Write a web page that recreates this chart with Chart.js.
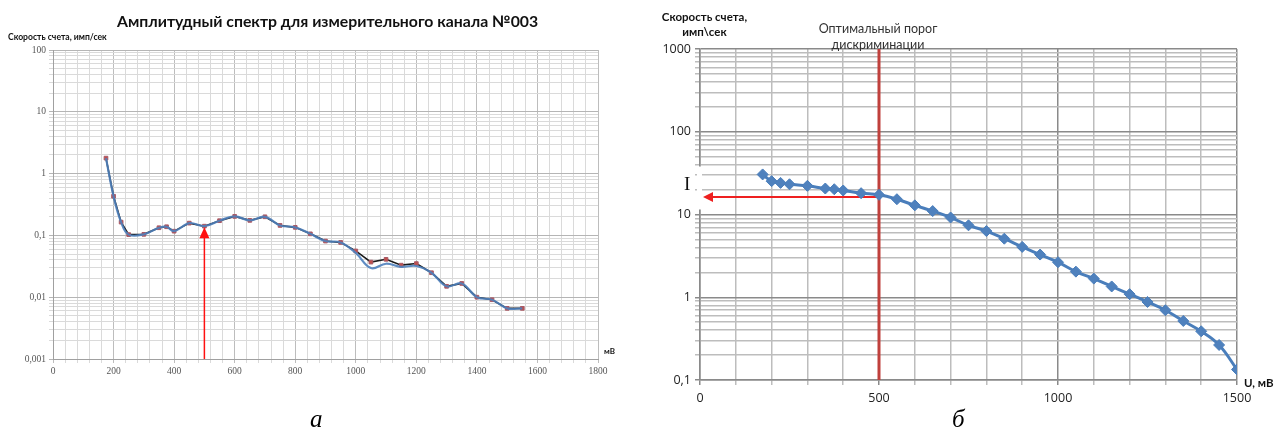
<!DOCTYPE html>
<html lang="ru">
<head>
<meta charset="UTF-8">
<title>Амплитудный спектр</title>
<script src="https://cdn.jsdelivr.net/npm/chart.js"></script>
<style>
  body { margin: 0; width: 1280px; height: 443px; background: #fff; position: relative; overflow: hidden; font-family: Lato, "Open Sans", sans-serif; }
  canvas { position: absolute; top: 0; }
  #left { left: 0; }
  #right { left: 640px; }
  .lbl { position: absolute; white-space: nowrap; color: #111; line-height: 1; }
  .cap { position: absolute; font-family: "Liberation Serif", "DejaVu Serif", serif; font-style: italic; font-size: 25px; }
</style>
</head>
<body>
<canvas id="left" width="640" height="443"></canvas>
<canvas id="right" width="640" height="443"></canvas>

<div class="lbl" style="left:117px;top:13px;font-size:15.8px;font-weight:700;">Амплитудный спектр для измерительного канала №003</div>
<div class="lbl" style="left:8px;top:33px;font-size:8.6px;font-weight:700;">Скорость счета, имп/сек</div>
<div class="lbl" style="left:604px;top:347px;font-size:8px;font-weight:700;">мВ</div>

<div class="lbl" style="left:657px;top:9px;font-size:11.5px;font-weight:700;text-align:center;width:95px;line-height:15px;">Скорость счета,<br>имп\сек</div>
<div class="lbl" style="left:808px;top:21px;font-size:12.5px;text-align:center;width:140px;line-height:16px;color:#333;">Оптимальный порог<br>дискриминации</div>
<div class="lbl" style="left:1244px;top:377px;font-size:11.5px;font-weight:700;">U, мВ</div>
<div class="lbl" style="left:684px;top:174px;font-size:19px;font-family:'Liberation Serif',serif;">I</div>

<div class="cap" style="left:310px;top:405px;">а</div>
<div class="cap" style="left:952px;top:405px;">б</div>

<script>
// ---- data: left chart (amplitude spectrum, channel 003)
var voltageLeft = [175, 200, 225, 250, 300, 350, 375, 400, 450, 500, 550, 600, 650, 700, 750, 800, 850,
                   900, 950, 1000, 1050, 1100, 1150, 1200, 1250, 1300, 1350, 1400, 1450, 1500, 1550];
var rateMeasured = [1.78, 0.43, 0.164, 0.103, 0.104, 0.133, 0.138, 0.117, 0.158, 0.141, 0.173, 0.203, 0.175, 0.2, 0.145, 0.135, 0.106,
                    0.081, 0.077, 0.056, 0.037, 0.041, 0.033, 0.035, 0.0249, 0.015, 0.0167, 0.01, 0.0091, 0.0066, 0.0066];
var rateSmoothed = [1.78, 0.43, 0.164, 0.103, 0.104, 0.133, 0.138, 0.117, 0.158, 0.141, 0.173, 0.203, 0.175, 0.2, 0.145, 0.135, 0.106,
                    0.081, 0.077, 0.052, 0.0296, 0.0348, 0.031, 0.032, 0.0249, 0.015, 0.0167, 0.01, 0.0091, 0.0066, 0.0066];

// ---- data: right chart (integral count rate)
var voltageRight = [175, 200, 225, 250, 300, 350, 375, 400, 450, 500, 550, 600, 650, 700, 750, 800, 850,
                    900, 950, 1000, 1050, 1100, 1150, 1200, 1250, 1300, 1350, 1400, 1450, 1500];
var rateRight = [30.5, 25.3, 24.1, 23.2, 22.2, 20.6, 20.2, 19.5, 18.1, 17.3, 15.3, 12.9, 11.0, 9.2, 7.4, 6.3, 5.1,
                 4.06, 3.28, 2.65, 2.04, 1.68, 1.35, 1.09, 0.877, 0.697, 0.517, 0.388, 0.265, 0.134];

// ---- axes
var decadesLeft = [0.001, 0.01, 0.1, 1, 10, 100];
var decadesRight = [0.1, 1, 10, 100, 1000];
var xTickLabelsLeft = [0, 200, 400, 600, 800, 1000, 1200, 1400, 1600, 1800];
var xTickLabelsRight = [0, 500, 1000, 1500];

var threshold = 500;          // оптимальный порог, мВ
var arrowLeftValue = 0.136;
var arrowRightValue = 16.3;

function logTicks(decades) {
  var out = [];
  for (var i = 0; i < decades.length; i++) {
    out.push({ value: decades[i] });
    if (i < decades.length - 1) {
      for (var k = 2; k <= 9; k++) out.push({ value: +(decades[i] * k).toPrecision(3) });
    }
  }
  return out;
}
function isDecade(v, decades) {
  return decades.some(function (d) { return Math.abs(d - v) < d * 1e-6; });
}
function fmt(v) { return String(v).replace('.', ','); }

function drawArrowHead(ctx, tipX, tipY, dir, len, half, color) {
  ctx.fillStyle = color;
  ctx.beginPath();
  ctx.moveTo(tipX, tipY);
  if (dir === 'up') { ctx.lineTo(tipX - half, tipY + len); ctx.lineTo(tipX + half, tipY + len); }
  else { ctx.lineTo(tipX + len, tipY - half); ctx.lineTo(tipX + len, tipY + half); }
  ctx.closePath();
  ctx.fill();
}

var leftArrow = {
  id: 'leftArrow',
  afterDatasetsDraw: function (chart) {
    var ctx = chart.ctx, x = chart.scales.x, y = chart.scales.y;
    var px = x.getPixelForValue(threshold);
    var top = y.getPixelForValue(arrowLeftValue);
    ctx.save();
    ctx.strokeStyle = '#ff1010';
    ctx.lineWidth = 1.5;
    ctx.beginPath();
    ctx.moveTo(px, chart.chartArea.bottom);
    ctx.lineTo(px, top + 8);
    ctx.stroke();
    drawArrowHead(ctx, px, top, 'up', 11, 5, '#ff1010');
    ctx.restore();
  }
};

var rightMarks = {
  id: 'rightMarks',
  beforeDatasetsDraw: function (chart) {
    var ctx = chart.ctx, x = chart.scales.x, y = chart.scales.y, a = chart.chartArea;
    var px = x.getPixelForValue(threshold);
    ctx.save();
    // gap in the value axis behind the "I" mark
    ctx.fillStyle = '#fff';
    ctx.fillRect(a.left - 3, y.getPixelForValue(38), 5, y.getPixelForValue(11.5) - y.getPixelForValue(38));
    ctx.strokeStyle = '#c0403c';
    ctx.lineWidth = 3;
    ctx.beginPath();
    ctx.moveTo(px, a.top);
    ctx.lineTo(px, a.bottom);
    ctx.stroke();
    var py = y.getPixelForValue(arrowRightValue);
    ctx.strokeStyle = '#ee2020';
    ctx.lineWidth = 2;
    ctx.beginPath();
    ctx.moveTo(px, py);
    ctx.lineTo(a.left + 10, py);
    ctx.stroke();
    drawArrowHead(ctx, a.left + 3, py, 'left', 10, 5, '#ee2020');
    ctx.restore();
  }
};

// left chart
new Chart(document.getElementById('left'), {
  type: 'line',
  data: {
    datasets: [
      {
        data: voltageLeft.map(function (v, i) { return { x: v, y: rateSmoothed[i] }; }),
        borderColor: 'rgba(79,129,189,0.9)', borderWidth: 2.2, tension: 0.4,
        pointRadius: 0
      },
      {
        data: voltageLeft.map(function (v, i) { return { x: v, y: rateMeasured[i] }; }),
        borderColor: '#1a1a1a', borderWidth: 1.6, tension: 0,
        pointStyle: 'rect', pointRadius: 2.6,
        pointBackgroundColor: '#c0504d', pointBorderColor: '#a85a66', pointBorderWidth: 1
      }
    ]
  },
  options: {
    responsive: false, animation: false, devicePixelRatio: 1,
    layout: { padding: { left: 0, right: 42, top: 50, bottom: 59 } },
    plugins: { legend: { display: false }, tooltip: { enabled: false } },
    scales: {
      x: {
        type: 'linear', min: 0, max: 1800,
        afterBuildTicks: function (s) {
          var t = []; for (var v = 0; v <= 1800; v += 40) t.push({ value: v }); s.ticks = t;
        },
        afterFit: function (s) { s.height = 25; },
        ticks: {
          autoSkip: false, maxRotation: 0, padding: 3,
          font: { family: 'Liberation Serif', size: 9.5 }, color: '#555',
          callback: function (v) { return xTickLabelsLeft.indexOf(v) >= 0 ? String(v) : ''; }
        },
        grid: {
          color: function (c) { return c.tick && c.tick.value % 200 === 0 ? '#bdbdbd' : '#dadada'; },
          tickLength: 4
        },
        border: { color: '#a0a0a0' }
      },
      y: {
        type: 'logarithmic', min: 0.001, max: 100,
        afterBuildTicks: function (s) { s.ticks = logTicks(decadesLeft); },
        afterFit: function (s) { s.width = 53; },
        ticks: {
          autoSkip: false, padding: 3,
          font: { family: 'Liberation Serif', size: 9.5 }, color: '#555',
          callback: function (v) { return isDecade(v, decadesLeft) ? fmt(v) : ''; }
        },
        grid: {
          color: function (c) { return c.tick && isDecade(c.tick.value, decadesLeft) ? '#b5b5b5' : '#dadada'; },
          tickLength: 4
        },
        border: { color: '#a0a0a0' }
      }
    }
  },
  plugins: [leftArrow]
});

// right chart
new Chart(document.getElementById('right'), {
  type: 'line',
  data: {
    datasets: [{
      data: voltageRight.map(function (v, i) { return { x: v, y: rateRight[i] }; }),
      borderColor: '#4a7ebb', borderWidth: 3, tension: 0.4,
      pointStyle: 'rectRot', pointRadius: 5.5,
      pointBackgroundColor: '#4f81bd', pointBorderColor: '#4a7ebb', pointBorderWidth: 1
    }]
  },
  options: {
    responsive: false, animation: false, devicePixelRatio: 1,
    layout: { padding: { left: 0, right: 43, top: 49, bottom: 38 } },
    plugins: { legend: { display: false }, tooltip: { enabled: false } },
    scales: {
      x: {
        type: 'linear', min: 0, max: 1500,
        afterBuildTicks: function (s) {
          var t = []; for (var v = 0; v <= 1500; v += 100) t.push({ value: v }); s.ticks = t;
        },
        afterFit: function (s) { s.height = 25; },
        ticks: {
          autoSkip: false, maxRotation: 0, padding: 6,
          font: { family: 'Open Sans', size: 12.5 }, color: '#222',
          callback: function (v) { return xTickLabelsRight.indexOf(v) >= 0 ? String(v) : ''; }
        },
        grid: {
          color: function (c) { return c.tick && c.tick.value % 500 === 0 ? '#8a8a8a' : '#bdbdbd'; },
          lineWidth: 1.5, tickLength: 5
        },
        border: { color: '#8a8a8a', width: 1.5 }
      },
      y: {
        type: 'logarithmic', min: 0.1, max: 1000,
        afterBuildTicks: function (s) { s.ticks = logTicks(decadesRight); },
        afterFit: function (s) { s.width = 60; },
        ticks: {
          autoSkip: false, padding: 4,
          font: { family: 'Open Sans', size: 12.5 }, color: '#222',
          callback: function (v) { return isDecade(v, decadesRight) ? fmt(v) : ''; }
        },
        grid: {
          color: function (c) { return c.tick && isDecade(c.tick.value, decadesRight) ? '#8a8a8a' : '#bdbdbd'; },
          lineWidth: 1.5, tickLength: 5
        },
        border: { color: '#8a8a8a', width: 1.5 }
      }
    }
  },
  plugins: [rightMarks]
});
</script>
</body>
</html>
